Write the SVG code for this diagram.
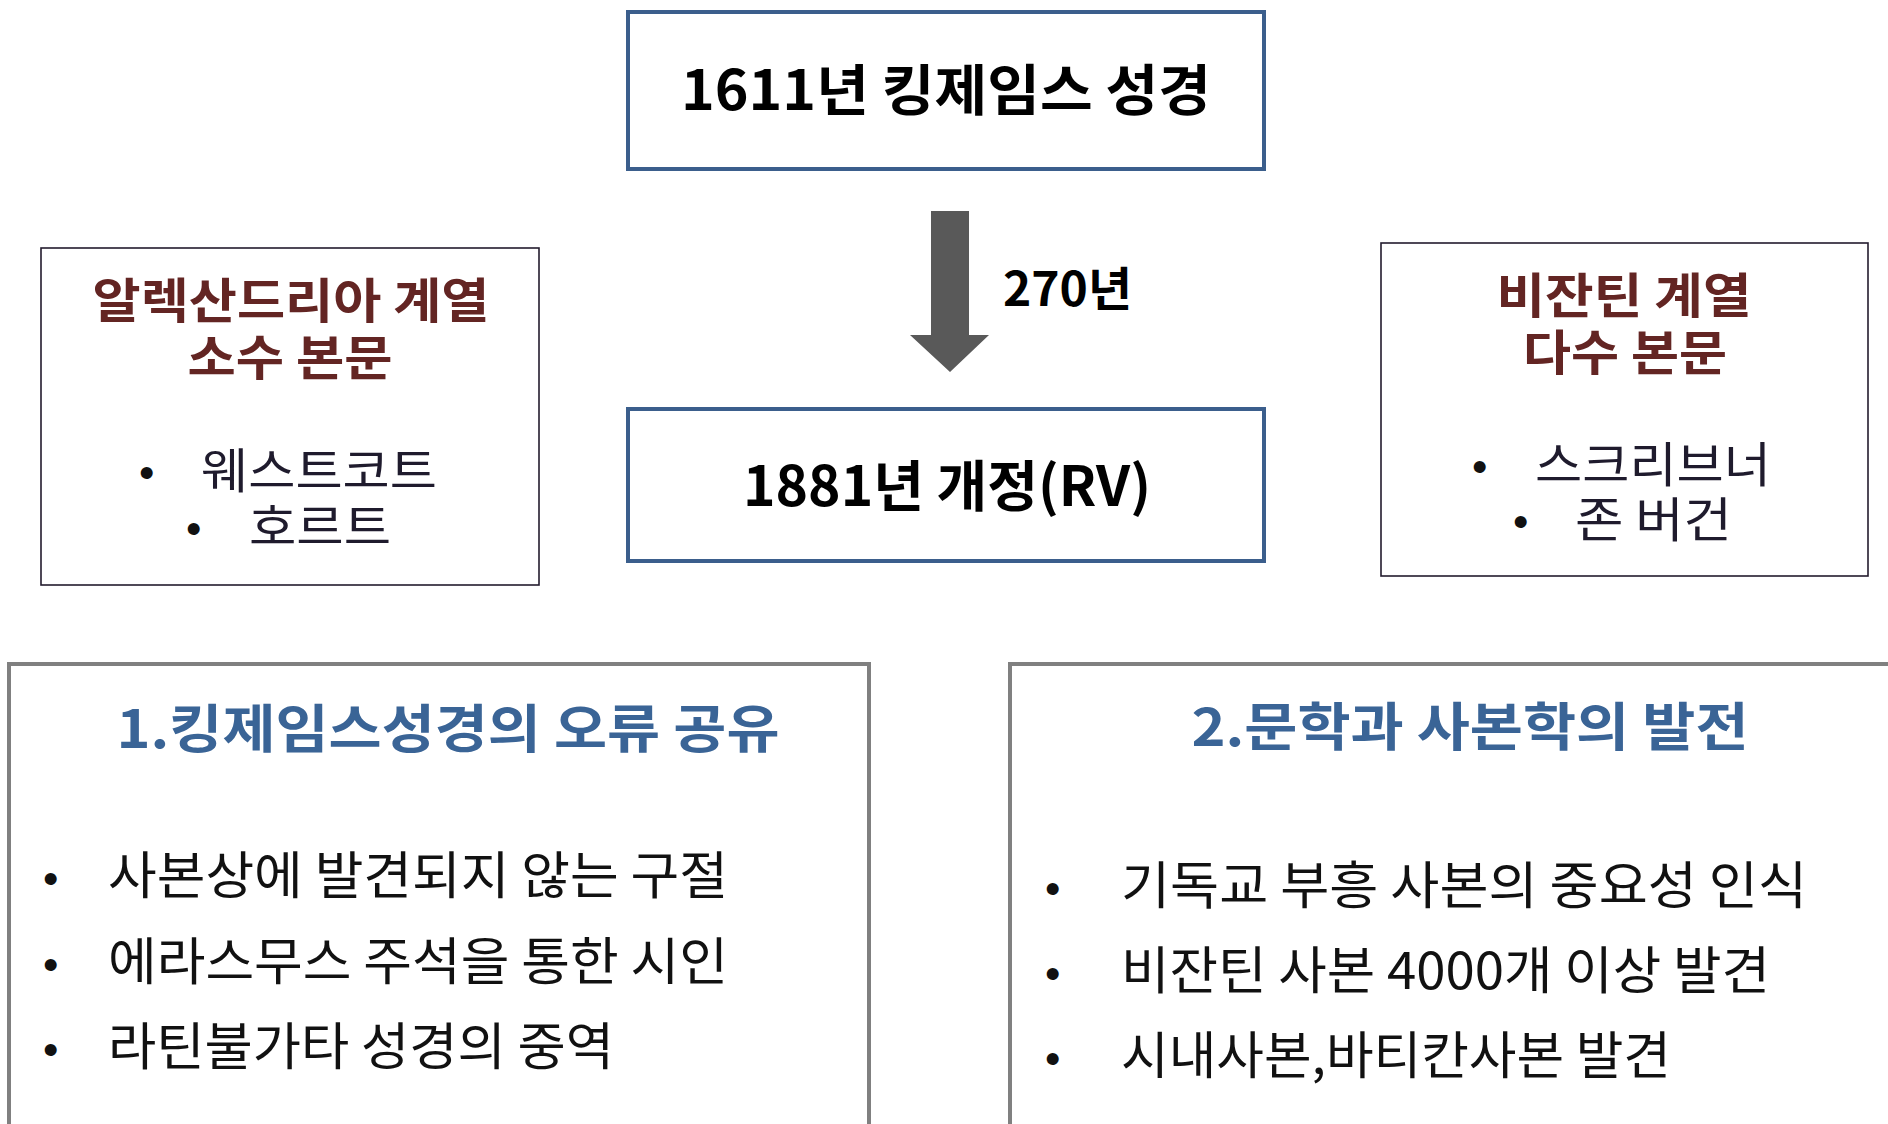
<svg xmlns="http://www.w3.org/2000/svg" width="1888" height="1124" viewBox="0 0 1888 1124">
<style>
text{font-family:"Noto Sans CJK KR","Noto Sans",sans-serif}
.main{fill:none;stroke:#3B5E8C;stroke-width:4}
.side{fill:#fff;stroke:#231c2e;stroke-width:1.6}
.sec{fill:#fff;stroke:#808080;stroke-width:4}
.big{font-size:55px;font-weight:700;fill:#000;text-anchor:middle}
.red{font-size:48px;font-weight:700;fill:#632523;text-anchor:middle}
.item{font-size:48px;fill:#1f1b2d}
.blue{font-size:52px;font-weight:700;fill:#3A6496;text-anchor:middle}
.li{font-size:51px;fill:#111}
.dot{font-family:"Liberation Sans",sans-serif;font-size:44px;fill:#111}
</style>
<rect width="1888" height="1124" fill="#fff"/>
<g id="connectors">
<polygon points="931,211 969,211 969,335 989,335 950,372 910,335 931,335" fill="#595959"/>
<text x="1003" y="306" textLength="129" lengthAdjust="spacingAndGlyphs" style="font-size:47px;font-weight:700;fill:#000">270년</text>
</g>
<g id="kjv1611">
<rect class="main" x="628" y="12" width="636" height="157"/>
<text class="big" x="946" y="110" textLength="530" lengthAdjust="spacingAndGlyphs">1611년 킹제임스 성경</text>
</g>
<g id="rv1881">
<rect class="main" x="628" y="409" width="636" height="152"/>
<text class="big" x="947" y="506" textLength="408" lengthAdjust="spacingAndGlyphs">1881년 개정(RV)</text>
</g>
<g id="alexandrian">
<rect class="side" x="41" y="248" width="498" height="337"/>
<text class="red" x="291" y="318" textLength="397" lengthAdjust="spacingAndGlyphs">알렉산드리아 계열</text>
<text class="red" x="290" y="375" textLength="205" lengthAdjust="spacingAndGlyphs">소수 본문</text>
<text class="dot" x="139" y="488">•</text>
<text class="item" x="201" y="488" textLength="236" lengthAdjust="spacingAndGlyphs">웨스트코트</text>
<text class="dot" x="186" y="544">•</text>
<text class="item" x="249" y="544" textLength="142" lengthAdjust="spacingAndGlyphs">호르트</text>
</g>
<g id="byzantine">
<rect class="side" x="1381" y="243" width="487" height="333"/>
<text class="red" x="1624" y="313" textLength="255" lengthAdjust="spacingAndGlyphs">비잔틴 계열</text>
<text class="red" x="1625" y="370" textLength="204" lengthAdjust="spacingAndGlyphs">다수 본문</text>
<text class="dot" x="1472" y="482">•</text>
<text class="item" x="1535" y="482" textLength="236" lengthAdjust="spacingAndGlyphs">스크리브너</text>
<text class="dot" x="1513" y="537">•</text>
<text class="item" x="1575" y="537" textLength="157" lengthAdjust="spacingAndGlyphs">존 버건</text>
</g>
<g id="section1">
<rect class="sec" x="9" y="664" width="860" height="480"/>
<text class="blue" x="448" y="748" textLength="663" lengthAdjust="spacingAndGlyphs">1.킹제임스성경의 오류 공유</text>
<text class="dot" x="43" y="894">•</text>
<text class="li" x="108" y="894" textLength="620" lengthAdjust="spacingAndGlyphs">사본상에 발견되지 않는 구절</text>
<text class="dot" x="43" y="980">•</text>
<text class="li" x="108" y="980" textLength="620" lengthAdjust="spacingAndGlyphs">에라스무스 주석을 통한 시인</text>
<text class="dot" x="43" y="1065">•</text>
<text class="li" x="108" y="1065" textLength="506" lengthAdjust="spacingAndGlyphs">라틴불가타 성경의 중역</text>
</g>
<g id="section2">
<rect class="sec" x="1010" y="664" width="900" height="480"/>
<text class="blue" x="1470" y="746" textLength="557" lengthAdjust="spacingAndGlyphs">2.문학과 사본학의 발전</text>
<text class="dot" x="1045" y="904">•</text>
<text class="li" x="1121" y="904" textLength="686" lengthAdjust="spacingAndGlyphs">기독교 부흥 사본의 중요성 인식</text>
<text class="dot" x="1045" y="989">•</text>
<text class="li" x="1121" y="989" textLength="649" lengthAdjust="spacingAndGlyphs">비잔틴 사본 4000개 이상 발견</text>
<text class="dot" x="1045" y="1074">•</text>
<text class="li" x="1121" y="1074" textLength="550" lengthAdjust="spacingAndGlyphs">시내사본,바티칸사본 발견</text>
</g>
</svg>
